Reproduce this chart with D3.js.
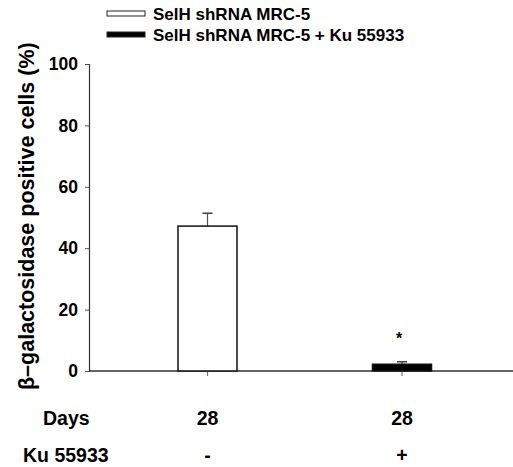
<!DOCTYPE html>
<html>
<head>
<meta charset="utf-8">
<script src="https://cdn.jsdelivr.net/npm/d3@7"></script>
<style>
  html, body { margin: 0; padding: 0; background: #fff; }
  svg { display: block; }
  text { font-family: Arial, "Liberation Sans", sans-serif; font-weight: bold; fill: #000; }
</style>
</head>
<body>
<svg id="chart" width="513" height="467"></svg>
<script>
// Senescence assay: beta-galactosidase positive cells at day 28
const groups = ["SelH shRNA MRC-5", "SelH shRNA MRC-5 + Ku 55933"];
const values = [47.2, 2.2];
const errors = [4.2, 0.8];
const days = ["28", "28"];
const kuTreatment = ["-", "+"];
const yTicks = [0, 20, 40, 60, 80, 100];
const fills = ["#ffffff", "#000000"];
const signif = ["", "*"];

const svg = d3.select("#chart");
const W = 513;
const axisLeft = 89;

const y = d3.scaleLinear().domain([0, 100]).range([371, 64]);
const x = d3.scalePoint().domain(groups).range([207.5, 402]);
const barW = 59;

// y axis
const yAxis = svg.append("g")
  .attr("transform", `translate(${axisLeft},0)`)
  .call(d3.axisLeft(y).tickValues(yTicks).tickSize(4).tickPadding(7).tickFormat(d3.format("d")));
yAxis.select(".domain").attr("stroke", "#333").attr("stroke-width", 1.2);
yAxis.selectAll(".tick line").attr("stroke", "#555");
yAxis.selectAll(".tick text")
  .attr("font-size", 17.5).attr("font-weight", "bold")
  .attr("font-family", "Arial, 'Liberation Sans', sans-serif").attr("fill", "#000");

// x baseline running to the right edge
svg.append("line")
  .attr("x1", axisLeft).attr("x2", W)
  .attr("y1", y(0)).attr("y2", y(0))
  .attr("stroke", "#333").attr("stroke-width", 1.4);

// x ticks at group centres
svg.selectAll(".xtick").data(groups).join("line")
  .attr("class", "xtick")
  .attr("x1", d => x(d)).attr("x2", d => x(d))
  .attr("y1", y(0)).attr("y2", y(0) + 5)
  .attr("stroke", "#777").attr("stroke-width", 1.2);

// error bars (upper only)
svg.selectAll(".err").data(groups).join("line")
  .attr("class", "err")
  .attr("x1", d => x(d)).attr("x2", d => x(d))
  .attr("y1", (d, i) => y(values[i])).attr("y2", (d, i) => y(values[i] + errors[i]))
  .attr("stroke", "#555").attr("stroke-width", 1.2);
svg.selectAll(".cap").data(groups).join("line")
  .attr("class", "cap")
  .attr("x1", d => x(d) - 5).attr("x2", d => x(d) + 5)
  .attr("y1", (d, i) => y(values[i] + errors[i])).attr("y2", (d, i) => y(values[i] + errors[i]))
  .attr("stroke", "#333").attr("stroke-width", 1.4);

// bars
svg.selectAll(".bar").data(groups).join("rect")
  .attr("class", "bar")
  .attr("x", d => x(d) - barW / 2)
  .attr("width", barW)
  .attr("y", (d, i) => y(values[i]))
  .attr("height", (d, i) => y(0) - y(values[i]))
  .attr("fill", (d, i) => fills[i])
  .attr("stroke", "#111").attr("stroke-width", 1.5);

// significance marks
svg.selectAll(".sig").data(groups).join("text")
  .attr("class", "sig")
  .attr("x", d => x(d) - 3)
  .attr("y", (d, i) => y(values[i] + errors[i]) - 18)
  .attr("text-anchor", "middle")
  .attr("font-size", 16).attr("font-weight", "normal").attr("fill", "#333")
  .text((d, i) => signif[i]);

// y axis title
svg.append("text")
  .attr("transform", "translate(34,390) rotate(-90)")
  .attr("text-anchor", "start")
  .attr("font-size", 21.5)
  .text("\u03B2\u2013galactosidase positive cells (%)");

// legend
const legend = svg.append("g");
groups.forEach((g, i) => {
  const ly = 11 + i * 21;
  legend.append("rect")
    .attr("x", 107).attr("y", ly).attr("width", 38).attr("height", 5)
    .attr("fill", fills[i]).attr("stroke", "#222").attr("stroke-width", 1);
  legend.append("text")
    .attr("x", 153).attr("y", ly + 9)
    .attr("font-size", 17)
    .text(g);
});

// condition rows under the axis
const rowFont = 19.5;
svg.append("text").attr("x", 43).attr("y", 425).attr("font-size", rowFont).text("Days");
svg.append("text").attr("x", 23).attr("y", 462).attr("font-size", rowFont).text("Ku 55933");
svg.selectAll(".day").data(groups).join("text")
  .attr("class", "day")
  .attr("x", d => x(d)).attr("y", 425)
  .attr("text-anchor", "middle").attr("font-size", rowFont)
  .text((d, i) => days[i]);
svg.selectAll(".ku").data(groups).join("text")
  .attr("class", "ku")
  .attr("x", d => x(d)).attr("y", 462)
  .attr("text-anchor", "middle").attr("font-size", rowFont)
  .text((d, i) => kuTreatment[i]);
</script>
</body>
</html>
